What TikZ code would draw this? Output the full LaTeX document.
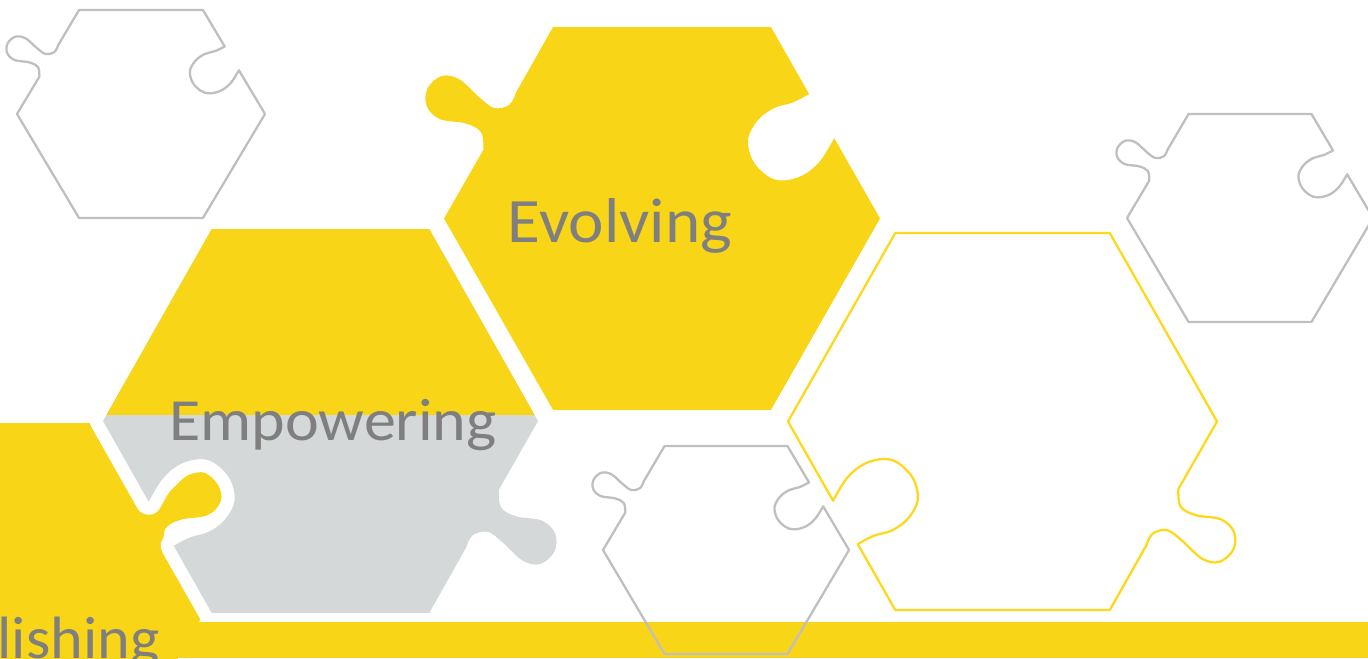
\documentclass[tikz,border=0pt]{standalone}
\usepackage{fontspec}
\setmainfont{Carlito}

\definecolor{hexyellow}{HTML}{F9D518}
\definecolor{hexgray}{HTML}{D5D8D8}
\definecolor{linegray}{HTML}{BFBFBF}
\definecolor{lineyellow}{HTML}{FFD81C}
\definecolor{textgray}{HTML}{7F7F7F}

% one puzzle piece, unit radius, tab on the upper left, slot on the upper right
\newcommand{\piecepath}{%
  (-0.5,-0.866) -- (-1,0)
  -- plot[smooth, tension=0.6] coordinates {(-0.82,0.31) (-0.83,0.39) (-0.9,0.43) (-1.02,0.45) (-1.08,0.51) (-1.075,0.59) (-1.01,0.645) (-0.93,0.63) (-0.84,0.55) (-0.77,0.5) (-0.7,0.515) (-0.67,0.57)}
  -- (-0.5,0.866) -- (0.5,0.866)
  -- plot[smooth, tension=0.6] coordinates {(0.675,0.563) (0.6,0.525) (0.515,0.5) (0.44,0.445) (0.395,0.36) (0.415,0.265) (0.48,0.195) (0.55,0.172) (0.645,0.195) (0.725,0.26) (0.79,0.364)}
  -- (1,0) -- (0.5,-0.866) -- cycle}

\tikzset{
  grayline/.style={draw=linegray, line width=0.65pt, line join=round},
  yellowline/.style={draw=lineyellow, line width=0.65pt, line join=round},
  halo/.style={draw=white, line width=7.4pt, line join=round},
  piecetext/.style={text=textgray, font=\fontsize{#1}{20pt}\selectfont, inner sep=0pt, transform shape},
  piecetext/.default=18pt
}

\begin{document}
\begin{tikzpicture}[x=0.01cm, y=-0.01cm]
    \useasboundingbox (0,0) rectangle (1368,658);
    \clip (0,0) rectangle (1368,658);

    % Filled pieces
    \fill[hexyellow, shift={(-17,615)}, xscale=-220, yscale=-221.7] \piecepath;
    \path[halo, shift={(320.5,421)}, xscale=-217.5, yscale=221.7] \piecepath;
    \fill[hexgray, shift={(320.5,421)}, xscale=-217.5, yscale=221.7] \piecepath;
    \begin{scope}
        \clip (0,0) rectangle (1368,414);
        \fill[hexyellow, shift={(320.5,421)}, xscale=-217.5, yscale=221.7] \piecepath;
    \end{scope}
    \fill[hexyellow] (0,622) rectangle (1368,658);
    \fill[hexyellow, shift={(662,218.5)}, xscale=218, yscale=-221] \piecepath;

    % Outlined pieces
    \path[grayline, shift={(141,114)}, xscale=124, yscale=-120] \piecepath;
    \path[grayline, shift={(1250,218)}, xscale=123, yscale=-120] \piecepath;
    \path[grayline, shift={(726,550)}, xscale=123, yscale=-120] \piecepath;
    \path[yellowline, shift={(1002.5,421.5)}, xscale=-214.5, yscale=217.7] \piecepath;

    % Labels
    \node[piecetext=18pt, xscale=1.06, anchor=base] (evolving) at (620,243) {Evolving};
    \node[piecetext=17pt, xscale=1.07, anchor=base] (empowering) at (333,440) {Empowering};
    \node[piecetext=17pt, xscale=1.04, anchor=base west] (lishing) at (-3,658) {lishing};
\end{tikzpicture}
\end{document}
